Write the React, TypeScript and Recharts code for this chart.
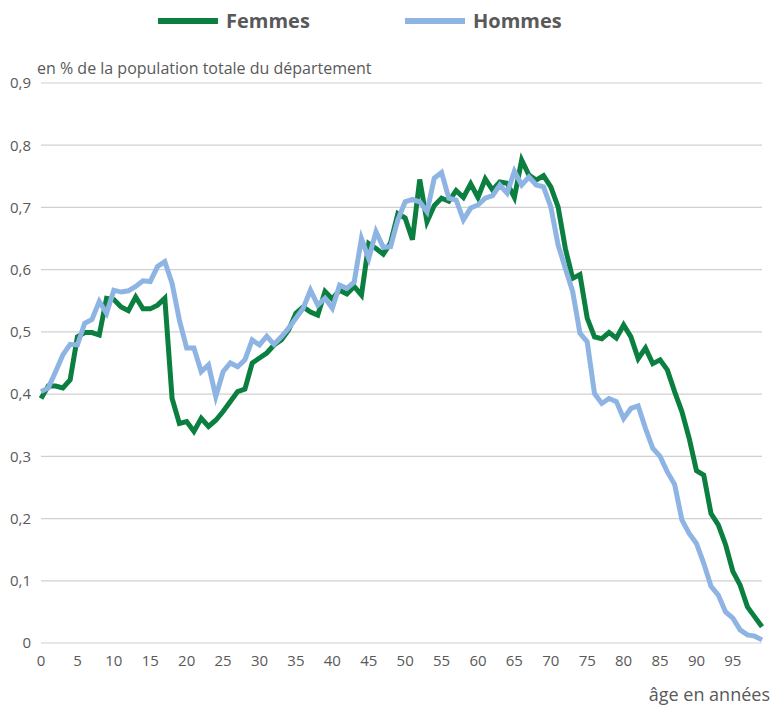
import { LineChart, Line, XAxis, YAxis, CartesianGrid } from 'recharts';

// part de chaque âge dans la population totale du département (%), âges 0 à 99
const FEMMES = [
  0.393, 0.413, 0.413, 0.41, 0.423, 0.492, 0.499, 0.499, 0.495, 0.554,
  0.552, 0.54, 0.534, 0.556, 0.537, 0.537, 0.543, 0.554, 0.393, 0.353,
  0.356, 0.34, 0.361, 0.348, 0.358, 0.372, 0.388, 0.404, 0.408, 0.45,
  0.458, 0.466, 0.479, 0.487, 0.503, 0.53, 0.54, 0.532, 0.527, 0.565,
  0.553, 0.567, 0.561, 0.573, 0.559, 0.642, 0.634, 0.625, 0.643, 0.69,
  0.683, 0.648, 0.745, 0.677, 0.703, 0.715, 0.71, 0.727, 0.716, 0.738,
  0.716, 0.746, 0.728, 0.741, 0.739, 0.716, 0.776, 0.752, 0.744, 0.751,
  0.733, 0.701, 0.634, 0.586, 0.592, 0.522, 0.492, 0.489, 0.499, 0.49,
  0.511, 0.492, 0.457, 0.474, 0.449, 0.455, 0.439, 0.404, 0.372, 0.329,
  0.277, 0.27, 0.208, 0.19, 0.158, 0.115, 0.093, 0.058, 0.042, 0.026,
];

const HOMMES = [
  0.404, 0.41, 0.436, 0.463, 0.48, 0.479, 0.514, 0.52, 0.549, 0.53,
  0.567, 0.564, 0.566, 0.573, 0.582, 0.581, 0.605, 0.613, 0.578, 0.519,
  0.474, 0.474, 0.436, 0.447, 0.396, 0.436, 0.45, 0.444, 0.455, 0.487,
  0.479, 0.493, 0.48, 0.492, 0.506, 0.522, 0.538, 0.567, 0.543, 0.554,
  0.538, 0.575, 0.57, 0.58, 0.65, 0.618, 0.661, 0.636, 0.637, 0.68,
  0.709, 0.713, 0.709, 0.693, 0.747, 0.756, 0.715, 0.712, 0.68, 0.699,
  0.704, 0.715, 0.719, 0.736, 0.723, 0.758, 0.736, 0.749, 0.736, 0.733,
  0.701, 0.64, 0.602, 0.565, 0.498, 0.484, 0.401, 0.385, 0.393, 0.388,
  0.361, 0.377, 0.381, 0.345, 0.313, 0.3, 0.275, 0.255, 0.198, 0.176,
  0.16, 0.128, 0.091, 0.077, 0.05, 0.04, 0.021, 0.013, 0.011, 0.005,
];

const X_TICKS = [0, 5, 10, 15, 20, 25, 30, 35, 40, 45, 50, 55, 60, 65, 70, 75, 80, 85, 90, 95];
const Y_TICKS = [0, 0.1, 0.2, 0.3, 0.4, 0.5, 0.6, 0.7, 0.8, 0.9];

const GREEN = '#0b7f40';
const BLUE = '#8eb4e3';
const TEXT = '#595959';
const FONT = '"Open Sans", sans-serif';

const data = FEMMES.map((f, i) => ({ age: i, femmes: f, hommes: HOMMES[i] }));

const fmtY = (v: number) => (v === 0 ? '0' : v.toFixed(1).replace('.', ','));

function LegendItem({ color, label, left }: { color: string; label: string; left: number }) {
  return (
    <div style={{ position: 'absolute', left, top: 7, display: 'flex', alignItems: 'center' }}>
      <div style={{ width: 60, height: 6, background: color }} />
      <span style={{ marginLeft: 8, fontSize: 20, fontWeight: 700, color: TEXT, lineHeight: '28px' }}>
        {label}
      </span>
    </div>
  );
}

export default function App() {
  return (
    <div style={{ position: 'absolute', left: 0, top: 0, width: 773, height: 708, fontFamily: FONT, background: '#fff' }}>
      <LineChart
        width={773}
        height={708}
        data={data}
        margin={{ top: 83, right: 11, bottom: 35, left: 0 }}
      >
        <CartesianGrid vertical={false} stroke="#d0d0d0" strokeWidth={1.2} />
        <XAxis
          dataKey="age"
          type="number"
          domain={[0, 99]}
          ticks={X_TICKS}
          interval={0}
          height={30}
          tickLine={false}
          axisLine={false}
          tickMargin={6}
          tick={{ fill: TEXT, fontSize: 15, fontFamily: FONT }}
        />
        <YAxis
          domain={[0, 0.9]}
          ticks={Y_TICKS}
          width={41}
          tickLine={false}
          axisLine={false}
          tickMargin={4}
          tickFormatter={fmtY}
          tick={{ fill: TEXT, fontSize: 15, fontFamily: FONT }}
        />
        <Line type="linear" dataKey="femmes" stroke={GREEN} strokeWidth={5} dot={false} isAnimationActive={false} />
        <Line type="linear" dataKey="hommes" stroke={BLUE} strokeWidth={5} dot={false} isAnimationActive={false} />
      </LineChart>

      <LegendItem color={GREEN} label="Femmes" left={158} />
      <LegendItem color={BLUE} label="Hommes" left={405} />

      <div style={{ position: 'absolute', left: 37, top: 57, fontSize: 16, color: TEXT, lineHeight: '22px' }}>
        en % de la population totale du département
      </div>
      <div style={{ position: 'absolute', right: 3, top: 682, fontSize: 18, color: TEXT, lineHeight: '24px' }}>
        âge en années
      </div>
    </div>
  );
}
